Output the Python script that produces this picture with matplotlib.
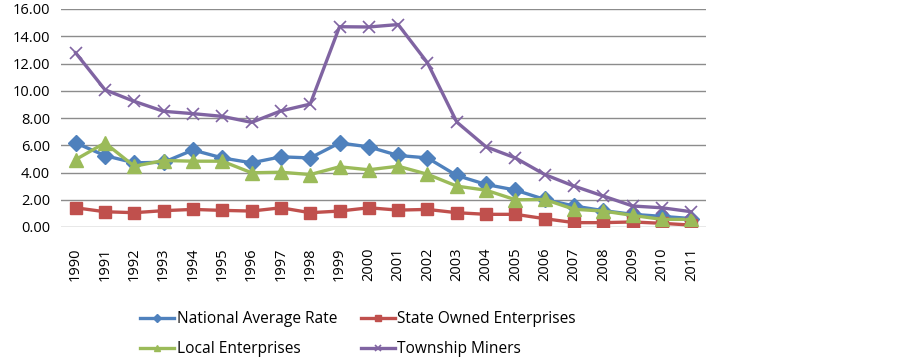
import matplotlib.pyplot as plt

years = [str(y) for y in range(1990, 2012)]

national = [6.17, 5.24, 4.71, 4.75, 5.65, 5.07, 4.71, 5.15, 5.07, 6.17, 5.88, 5.25,
            5.07, 3.78, 3.12, 2.71, 2.02, 1.54, 1.2, 0.93, 0.78, 0.62]
state_owned = [1.41, 1.12, 1.05, 1.2, 1.29, 1.22, 1.17, 1.41, 1.05, 1.17, 1.41, 1.24,
               1.29, 1.05, 0.93, 0.93, 0.61, 0.32, 0.32, 0.37, 0.27, 0.14]
local = [4.95, 6.17, 4.46, 4.88, 4.83, 4.83, 3.98, 4.02, 3.85, 4.42, 4.2, 4.46,
         3.87, 3.0, 2.7, 2.0, 2.02, 1.3, 1.17, 0.85, 0.56, 0.56]
township = [12.78, 10.07, 9.22, 8.49, 8.32, 8.12, 7.68, 8.52, 9.02, 14.7, 14.68, 14.86,
            12.05, 7.7, 5.88, 5.07, 3.85, 3.0, 2.27, 1.54, 1.41, 1.12]

y_ticks = [0, 2, 4, 6, 8, 10, 12, 14, 16]

plt.rcParams['font.family'] = ['Open Sans', 'DejaVu Sans']

fig = plt.figure(figsize=(8.99, 3.58), dpi=100)
ax = fig.add_axes([61 / 899, 1 - 227 / 358, 645 / 899, 218 / 358])

x = list(range(len(years)))
h1, = ax.plot(x, national, color='#4F81BD', lw=2.4, marker='D', ms=8,
              label='National Average Rate')
h2, = ax.plot(x, state_owned, color='#C0504D', lw=2.4, marker='s', ms=9,
              label='State Owned Enterprises')
h3, = ax.plot(x, local, color='#9BBB59', lw=2.4, marker='^', ms=10,
              label='Local Enterprises')
h4, = ax.plot(x, township, color='#8064A2', lw=2.4, marker='x', ms=9, mew=1.2,
              label='Township Miners')

ax.set_xlim(-0.5, len(years) - 0.5)
ax.set_ylim(0, 16)
ax.set_yticks(y_ticks)
ax.set_yticklabels(['%.2f' % v for v in y_ticks], fontsize=10.5)
ax.set_xticks(x)
ax.set_xticklabels(years, rotation=90, fontsize=10.5)
ax.tick_params(axis='y', length=0, pad=8)
ax.tick_params(axis='x', length=0, pad=15)
ax.grid(axis='y', color='#8C8C8C', lw=1)
ax.set_axisbelow(True)
for s in ax.spines.values():
    s.set_visible(False)

fig.legend([h1, h3, h2, h4], [h1.get_label(), h3.get_label(), h2.get_label(), h4.get_label()],
           ncol=2, loc='center', bbox_to_anchor=(358 / 899, 1 - 334 / 358),
           frameon=False, fontsize=11.2, handlelength=2.2, handletextpad=0.15,
           columnspacing=1.5, labelspacing=0.9, markerscale=0.5)

fig.savefig('out.png', dpi=100)
